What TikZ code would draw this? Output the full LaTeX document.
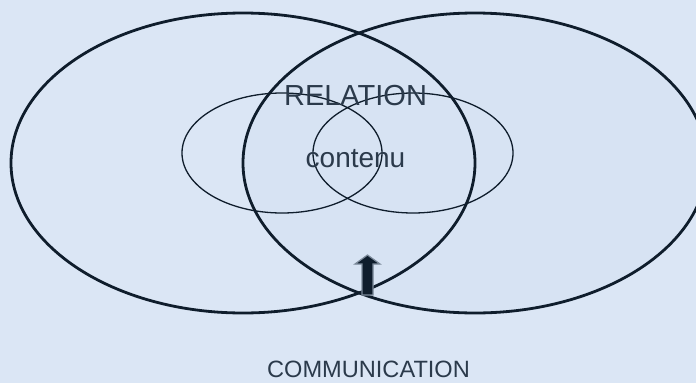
\documentclass[tikz,border=0pt]{standalone}
\usepackage{fontspec}
\setmainfont{Liberation Sans}
\definecolor{bgc}{HTML}{DBE6F5}
\definecolor{rfill}{HTML}{D7E3F3}
\definecolor{ink}{HTML}{0F1D2C}
\definecolor{txt}{HTML}{2B3A4B}
\definecolor{edge}{HTML}{7C8A9A}
\tikzset{
  bigell/.style={draw=ink, line width=2.8pt},
  smallell/.style={draw=ink, line width=1.3pt},
  lbl/.style={text=txt, anchor=base, inner sep=0pt},
  uparrow/.style={fill=ink, draw=edge, line width=1.2pt, line join=miter}
}
\begin{document}
\begin{tikzpicture}[x=1pt,y=-1pt]
\path[fill=bgc] (0,0) rectangle (696,383);
\useasboundingbox (0,0) rectangle (696,383);
\fill[rfill] (475,163) ellipse [x radius=232, y radius=150];
\draw[bigell] (243,163) ellipse [x radius=232, y radius=150];
\draw[bigell] (475,163) ellipse [x radius=232, y radius=150];
\draw[smallell] (282,153) ellipse [x radius=100, y radius=60];
\draw[smallell] (413,153) ellipse [x radius=100, y radius=60];
\draw[uparrow] (362,295) -- (362,264) -- (355,264) -- (367.5,255) -- (380,264) -- (373,264) -- (373,295) -- cycle;
\node[lbl, font=\fontsize{29}{29}\selectfont] (rel) at (355.5,105) {RELATION};
\node[lbl, font=\fontsize{28}{28}\selectfont] (cont) at (355.5,167) {contenu};
\node[lbl, font=\fontsize{23.6}{24}\selectfont] (comm) at (368.5,377.5) {COMMUNICATION};
\end{tikzpicture}
\end{document}
